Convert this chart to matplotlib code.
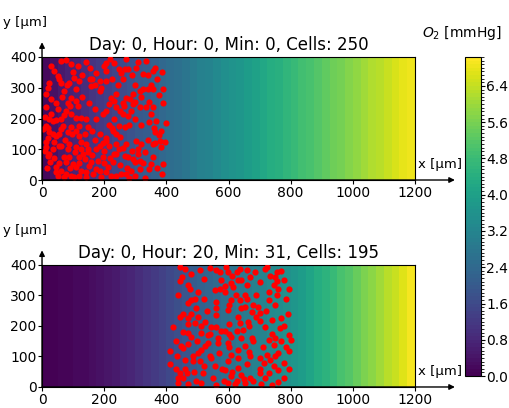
import numpy as np
import matplotlib
matplotlib.use("Agg")
import matplotlib.pyplot as plt
from matplotlib.colors import BoundaryNorm

# O2 per 25 um column (mmHg)
o2_top = [0.22, 0.36, 0.50, 0.65, 0.79, 0.93, 1.07, 1.21, 1.35, 1.49, 1.63, 1.77,
          1.92, 2.06, 2.20, 2.34, 2.48, 2.62, 2.76, 2.91, 3.05, 3.19, 3.33, 3.47,
          3.61, 3.75, 3.90, 4.04, 4.18, 4.32, 4.46, 4.60, 4.74, 4.88, 5.03, 5.17,
          5.31, 5.45, 5.59, 5.73, 5.87, 6.02, 6.16, 6.30, 6.44, 6.58, 6.72, 6.86]
o2_bot = [0.05, 0.07, 0.09, 0.12, 0.16, 0.21, 0.28, 0.36, 0.45, 0.55, 0.66, 0.78,
          0.91, 1.05, 1.20, 1.36, 1.52, 1.68, 1.85, 2.00, 2.16, 2.30, 2.45, 2.58,
          2.70, 2.82, 2.94, 3.06, 3.18, 3.30, 3.42, 3.55, 3.70, 3.91, 4.12, 4.34,
          4.55, 4.76, 4.97, 5.19, 5.40, 5.61, 5.82, 6.04, 6.25, 6.46, 6.67, 6.89]

# cell positions (um)
cells_top = [
    (61, 387), (77, 389), (115, 371), (94, 376), (24, 317), (18, 300), (56, 328), (61, 317),
    (51, 338), (104, 333), (88, 317), (120, 322), (153, 365), (174, 349), (206, 355), (206, 382),
    (233, 382), (271, 392), (276, 360), (303, 365), (325, 344), (335, 387), (249, 360), (255, 349),
    (266, 360), (362, 365), (357, 355), (389, 295), (206, 322), (185, 322), (153, 328), (158, 306),
    (185, 290), (110, 295), (72, 290), (94, 268), (110, 257), (83, 252), (223, 268), (239, 279),
    (271, 268), (292, 279), (314, 290), (325, 295), (341, 295), (357, 295), (13, 236), (24, 198),
    (34, 192), (13, 176), (2, 165), (24, 155), (18, 138), (13, 122), (24, 84), (13, 106),
    (51, 230), (77, 225), (94, 214), (110, 203), (126, 203), (142, 198), (147, 171), (174, 198),
    (61, 198), (67, 176), (94, 171), (120, 176), (206, 225), (217, 246), (239, 236), (233, 257),
    (282, 263), (292, 246), (287, 225), (314, 236), (335, 236), (357, 236), (352, 214), (368, 192),
    (400, 184), (384, 160), (362, 155), (260, 214), (276, 209), (266, 171), (249, 176), (45, 144),
    (56, 149), (83, 155), (120, 144), (137, 149), (185, 149), (206, 138), (228, 160), (239, 149),
    (56, 111), (88, 117), (110, 106), (142, 117), (147, 101), (185, 111), (206, 128), (217, 111),
    (239, 117), (249, 101), (271, 117), (303, 128), (319, 117), (330, 90), (357, 117), (378, 128),
    (384, 106), (8, 95), (18, 79), (34, 101), (72, 74), (88, 74), (77, 57), (99, 52),
    (110, 41), (131, 84), (147, 90), (120, 74), (137, 68), (158, 57), (180, 63), (196, 74),
    (212, 41), (228, 57), (239, 84), (266, 79), (276, 74), (292, 68), (309, 84), (314, 63),
    (357, 74), (352, 52), (389, 52), (45, 41), (45, 25), (51, 14), (77, 19), (72, 9),
    (126, 30), (120, 14), (142, 9), (163, 19), (185, 30), (206, 25), (223, 14), (239, 14),
    (271, 19), (287, 30), (298, 14), (314, 36), (94, 14), (104, 9),
    (30, 370), (40, 355), (12, 280), (30, 262), (45, 250), (65, 270), (80, 310), (100, 350),
    (130, 340), (140, 385), (160, 330), (170, 310), (190, 300), (200, 370), (220, 395), (225, 330),
    (245, 310), (260, 330), (290, 340), (300, 310), (310, 385), (340, 340), (350, 310), (370, 330),
    (385, 350), (375, 275), (390, 250), (345, 255), (320, 270), (300, 255), (260, 250), (250, 225),
    (265, 240), (230, 200), (215, 180), (195, 215), (170, 230), (150, 250), (130, 270), (115, 240),
    (90, 240), (70, 210), (45, 195), (30, 215), (10, 205), (20, 170), (35, 150), (60, 165),
    (75, 130), (95, 150), (110, 160), (125, 125), (160, 160), (170, 130), (195, 120), (225, 170),
    (250, 140), (280, 180), (300, 200), (320, 180), (345, 190), (360, 170), (375, 145), (395, 125),
    (365, 120), (340, 130), (310, 100), (290, 95), (260, 105), (230, 85), (200, 95), (175, 100),
    (160, 80), (125, 100), (105, 90), (85, 100), (60, 110), (40, 125), (25, 60), (40, 70),
    (55, 55), (90, 40), (120, 55), (150, 45), (175, 35), (200, 55), (220, 70), (250, 50),
    (275, 40), (300, 60), (325, 55), (345, 35), (370, 40), (385, 20), (255, 20), (190, 10),
    (140, 25), (60, 30), (15, 40), (330, 5), (280, 5),
]
cells_bot = [
    (443, 392), (459, 387), (507, 382), (561, 382), (572, 376), (593, 392), (599, 376), (626, 376),
    (636, 387), (658, 382), (443, 349), (470, 333), (475, 322), (502, 311), (438, 300), (480, 284),
    (491, 290), (556, 317), (572, 322), (588, 330), (615, 328), (421, 198), (443, 230), (470, 225),
    (491, 209), (502, 230), (523, 214), (545, 198), (561, 198), (470, 176), (480, 165), (513, 176),
    (534, 171), (523, 133), (502, 111), (448, 133), (454, 128), (411, 117), (411, 74), (443, 46),
    (465, 46), (518, 46), (513, 14), (438, 14), (438, 30), (486, 84), (507, 84), (545, 95),
    (556, 68), (588, 57), (599, 84), (609, 36), (599, 14), (626, 19), (652, 14), (631, 63),
    (658, 74), (567, 144), (599, 144), (609, 165), (626, 182), (647, 187), (588, 182), (561, 236),
    (599, 252), (609, 284), (636, 284), (652, 303), (658, 336), (631, 352), (609, 341), (652, 262),
    (674, 246), (663, 214), (636, 209), (674, 160), (652, 133), (669, 101), (631, 122), (609, 106),
    (685, 376), (718, 387), (756, 376), (750, 360), (756, 349), (745, 333), (795, 322), (756, 300),
    (729, 284), (696, 262), (701, 241), (690, 230), (718, 198), (767, 192), (795, 171), (800, 155),
    (750, 160), (729, 155), (745, 138), (795, 117), (724, 106), (750, 101), (778, 79), (745, 68),
    (713, 79), (701, 46), (679, 19), (718, 30),
    (450, 360), (480, 370), (520, 355), (540, 390), (575, 350), (610, 365), (640, 350), (670, 360),
    (700, 345), (735, 365), (770, 380), (780, 350), (760, 320), (730, 310), (690, 300), (660, 290),
    (625, 300), (590, 310), (560, 280), (520, 290), (495, 260), (470, 275), (455, 240), (480, 240),
    (530, 250), (560, 260), (600, 270), (640, 260), (680, 270), (720, 250), (750, 270), (785, 290),
    (790, 240), (770, 225), (740, 220), (700, 215), (665, 200), (630, 230), (600, 205), (575, 185),
    (540, 175), (510, 200), (470, 205), (455, 180), (430, 150), (470, 140), (500, 150), (535, 145),
    (565, 160), (600, 175), (640, 160), (680, 150), (710, 130), (740, 175), (770, 150), (785, 130),
    (760, 110), (735, 90), (700, 95), (665, 115), (630, 95), (600, 130), (570, 110), (540, 100),
    (510, 120), (485, 100), (460, 90), (435, 100), (430, 60), (460, 60), (490, 50), (520, 70),
    (550, 30), (580, 60), (610, 50), (640, 40), (670, 30), (700, 60), (730, 45), (760, 55),
    (780, 30), (760, 15), (740, 5), (705, 10), (650, 25), (620, 10), (585, 20), (560, 5),
    (495, 20), (470, 10), (455, 30), (780, 200), (795, 60), (725, 395),
]

titles = ["Day: 0, Hour: 0, Min: 0, Cells: 250",
          "Day: 0, Hour: 20, Min: 31, Cells: 195"]
x_ticks = [0, 200, 400, 600, 800, 1000, 1200]
y_ticks = [0, 100, 200, 300, 400]
cbar_ticks = [0.0, 0.8, 1.6, 2.4, 3.2, 4.0, 4.8, 5.6, 6.4]

levels = np.linspace(0, 7.04, 89)
norm = BoundaryNorm(levels, 256)

fig = plt.figure(figsize=(5.1, 4.08), dpi=100)
ax1 = fig.add_axes([0.0824, 0.5588, 0.7313, 0.3015])
ax2 = fig.add_axes([0.0824, 0.0515, 0.7313, 0.2990])
cax = fig.add_axes([0.912, 0.0784, 0.031, 0.782])


def panel(ax, o2, cells, title):
    edges = np.linspace(0, 1200, len(o2) + 1)
    mesh = ax.pcolormesh(edges, [0, 400], np.array([o2]), cmap="viridis", norm=norm)
    cx, cy = zip(*cells)
    ax.scatter(cx, cy, s=20, c="red", lw=0, zorder=3)
    ax.set_xlim(0, 1200); ax.set_ylim(0, 400)
    ax.set_xticks(x_ticks); ax.set_yticks(y_ticks)
    ax.tick_params(labelsize=10, length=3, pad=1)
    ax.set_title(title, fontsize=12, pad=5)
    arrow = dict(arrowstyle="-|>", color="k", lw=1, mutation_scale=8, shrinkA=0, shrinkB=0)
    ax.annotate("", xy=(1.107, 0), xytext=(0, 0), xycoords="axes fraction", arrowprops=arrow)
    ax.annotate("", xy=(0, 1.12), xytext=(0, 0), xycoords="axes fraction", arrowprops=arrow)
    ax.text(1.008, 0.13, "x [µm]", transform=ax.transAxes, ha="left", va="center", fontsize=9.5)
    ax.text(-0.105, 1.28, "y [µm]", transform=ax.transAxes, ha="left", va="center", fontsize=9.5)
    return mesh


m = panel(ax1, o2_top, cells_top, titles[0])
panel(ax2, o2_bot, cells_bot, titles[1])

cb = fig.colorbar(m, cax=cax, ticks=cbar_ticks)
cb.ax.set_yticklabels(["%.1f" % t for t in cbar_ticks])
cb.ax.tick_params(labelsize=10, length=3, pad=1)
fig.text(0.906, 0.919, "$O_2$ [mmHg]", ha="center", va="center", fontsize=10)

fig.savefig("out.png", dpi=100, facecolor="white")
